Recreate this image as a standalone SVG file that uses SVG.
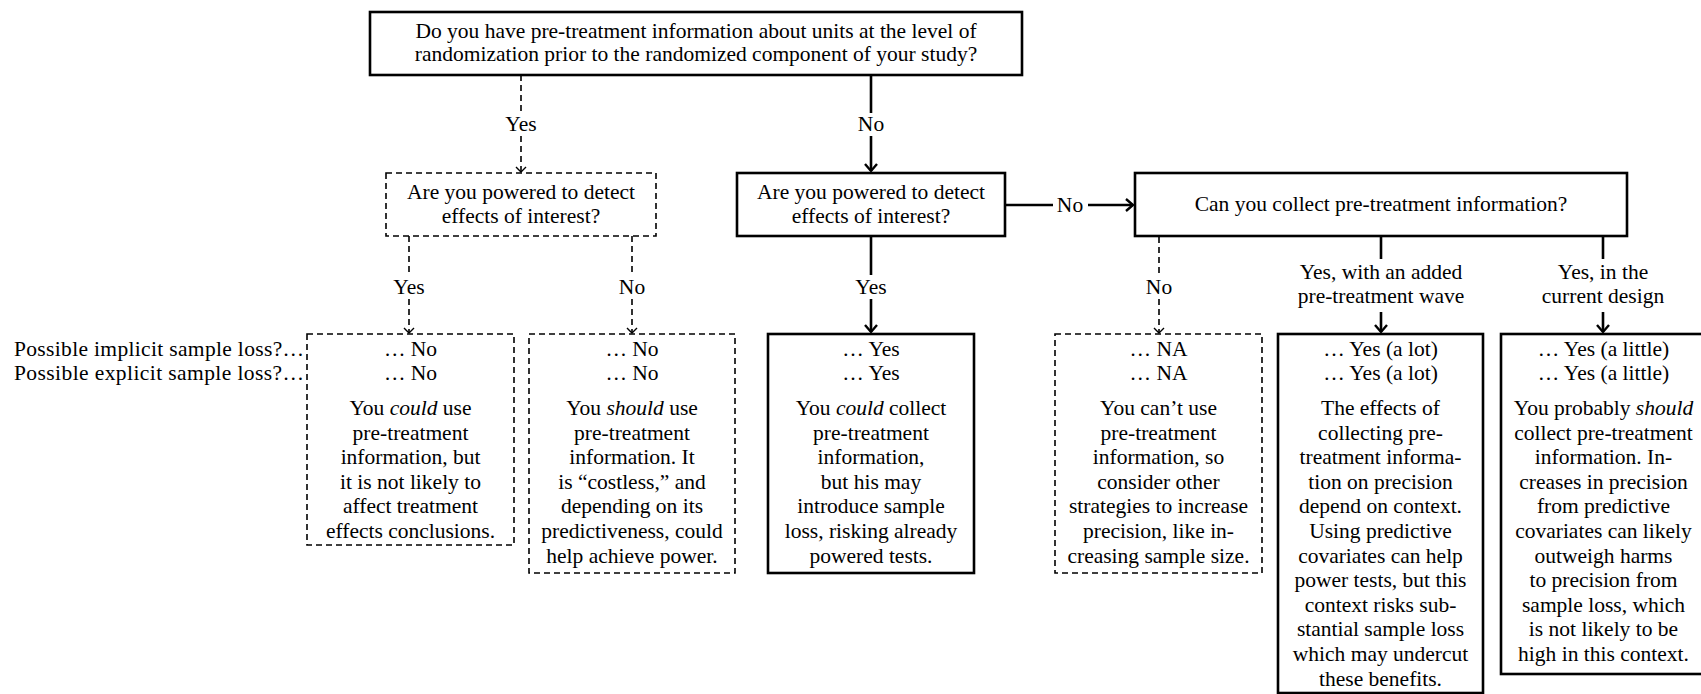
<svg xmlns="http://www.w3.org/2000/svg" width="1701" height="694" viewBox="0 0 1701 694">
<defs>
<style>
text{font-family:"Liberation Serif","Times New Roman",serif;font-size:21.5px;fill:#000;text-anchor:middle}
.it{font-style:italic}
.lbl{text-anchor:end}
.sbox{fill:#fff;stroke:#000;stroke-width:2.6}
.dbox{fill:#fff;stroke:#000;stroke-width:1.6;stroke-dasharray:6 4}
.s{stroke:#000;stroke-width:2.6;fill:none}
.d{stroke:#000;stroke-width:1.6;fill:none;stroke-dasharray:6 4}
</style>
<marker id="ah" markerUnits="userSpaceOnUse" viewBox="-10 -8 12 16" markerWidth="12" markerHeight="16" refX="0" refY="0" orient="auto">
<path d="M-7,-6 L0,0 L-7,6" fill="none" stroke="#000" stroke-width="2.4"/>
</marker>
<marker id="dh" markerUnits="userSpaceOnUse" viewBox="-10 -8 12 16" markerWidth="12" markerHeight="16" refX="0" refY="0" orient="auto">
<path d="M-5,-5 L0,0 L-5,5" fill="none" stroke="#000" stroke-width="1.4"/>
</marker>
</defs>
<rect width="1701" height="694" fill="#fff"/>

<g id="connectors">
<line class="d" x1="521" y1="75" x2="521" y2="113"/>
<line class="d" x1="521" y1="136" x2="521" y2="172" marker-end="url(#dh)"/>
<text x="521" y="131">Yes</text>
<line class="s" x1="871" y1="75" x2="871" y2="113"/>
<line class="s" x1="871" y1="136" x2="871" y2="171" marker-end="url(#ah)"/>
<text x="871" y="131">No</text>
<line class="s" x1="1005" y1="205" x2="1053" y2="205"/>
<line class="s" x1="1088" y1="205" x2="1133" y2="205" marker-end="url(#ah)"/>
<text x="1070" y="212">No</text>
<line class="d" x1="409" y1="236" x2="409" y2="275"/>
<line class="d" x1="409" y1="299" x2="409" y2="333" marker-end="url(#dh)"/>
<text x="409" y="294">Yes</text>
<line class="d" x1="632" y1="236" x2="632" y2="275"/>
<line class="d" x1="632" y1="299" x2="632" y2="333" marker-end="url(#dh)"/>
<text x="632" y="294">No</text>
<line class="s" x1="871" y1="236" x2="871" y2="275"/>
<line class="s" x1="871" y1="299" x2="871" y2="332" marker-end="url(#ah)"/>
<text x="871" y="294">Yes</text>
<line class="d" x1="1159" y1="237" x2="1159" y2="275"/>
<line class="d" x1="1159" y1="299" x2="1159" y2="333" marker-end="url(#dh)"/>
<text x="1159" y="294">No</text>
<line class="s" x1="1381" y1="237" x2="1381" y2="259"/>
<line class="s" x1="1381" y1="312" x2="1381" y2="332" marker-end="url(#ah)"/>
<text x="1381" y="279">Yes, with an added</text>
<text x="1381" y="303">pre-treatment wave</text>
<line class="s" x1="1603" y1="237" x2="1603" y2="259"/>
<line class="s" x1="1603" y1="312" x2="1603" y2="332" marker-end="url(#ah)"/>
<text x="1603" y="279">Yes, in the</text>
<text x="1603" y="303">current design</text>
</g>

<g id="q-top">
<rect class="sbox" x="370" y="12" width="652" height="63"/>
<text x="696" y="37.5">Do you have pre-treatment information about units at the level of</text>
<text x="696" y="61">randomization prior to the randomized component of your study?</text>
</g>

<g id="q-powered-yes">
<rect class="dbox" x="386" y="173" width="270" height="63"/>
<text x="521" y="199">Are you powered to detect</text>
<text x="521" y="222.5">effects of interest?</text>
</g>

<g id="q-powered-no">
<rect class="sbox" x="737" y="173" width="268" height="63"/>
<text x="871" y="199">Are you powered to detect</text>
<text x="871" y="222.5">effects of interest?</text>
</g>

<g id="q-collect">
<rect class="sbox" x="1135" y="173" width="492" height="63"/>
<text x="1381" y="211">Can you collect pre-treatment information?</text>
</g>

<g id="row-labels">
<text class="lbl" x="304" y="356" textLength="290">Possible implicit sample loss?…</text>
<text class="lbl" x="304" y="380" textLength="290">Possible explicit sample loss?…</text>
</g>

<g id="out-1">
<rect class="dbox" x="307" y="334" width="207" height="211"/>
<text x="410.5" y="356">… No</text>
<text x="410.5" y="380">… No</text>
<text x="410.5" y="415">You <tspan class="it">could</tspan> use</text>
<text x="410.5" y="439.6">pre-treatment</text>
<text x="410.5" y="464.2">information, but</text>
<text x="410.5" y="488.8">it is not likely to</text>
<text x="410.5" y="513.4">affect treatment</text>
<text x="410.5" y="538">effects conclusions.</text>
</g>

<g id="out-2">
<rect class="dbox" x="529" y="334" width="206" height="239"/>
<text x="632" y="356">… No</text>
<text x="632" y="380">… No</text>
<text x="632" y="415">You <tspan class="it">should</tspan> use</text>
<text x="632" y="439.6">pre-treatment</text>
<text x="632" y="464.2">information. It</text>
<text x="632" y="488.8">is “costless,” and</text>
<text x="632" y="513.4">depending on its</text>
<text x="632" y="538">predictiveness, could</text>
<text x="632" y="562.6">help achieve power.</text>
</g>

<g id="out-3">
<rect class="sbox" x="768" y="334" width="206" height="239"/>
<text x="871" y="356">… Yes</text>
<text x="871" y="380">… Yes</text>
<text x="871" y="415">You <tspan class="it">could</tspan> collect</text>
<text x="871" y="439.6">pre-treatment</text>
<text x="871" y="464.2">information,</text>
<text x="871" y="488.8">but his may</text>
<text x="871" y="513.4">introduce sample</text>
<text x="871" y="538">loss, risking already</text>
<text x="871" y="562.6">powered tests.</text>
</g>

<g id="out-4">
<rect class="dbox" x="1055" y="334" width="207" height="239"/>
<text x="1158.5" y="356">… NA</text>
<text x="1158.5" y="380">… NA</text>
<text x="1158.5" y="415">You can’t use</text>
<text x="1158.5" y="439.6">pre-treatment</text>
<text x="1158.5" y="464.2">information, so</text>
<text x="1158.5" y="488.8">consider other</text>
<text x="1158.5" y="513.4">strategies to increase</text>
<text x="1158.5" y="538">precision, like in-</text>
<text x="1158.5" y="562.6">creasing sample size.</text>
</g>

<g id="out-5">
<rect class="sbox" x="1278" y="334" width="205" height="359"/>
<text x="1380.5" y="356">… Yes (a lot)</text>
<text x="1380.5" y="380">… Yes (a lot)</text>
<text x="1380.5" y="415">The effects of</text>
<text x="1380.5" y="439.6">collecting pre-</text>
<text x="1380.5" y="464.2">treatment informa-</text>
<text x="1380.5" y="488.8">tion on precision</text>
<text x="1380.5" y="513.4">depend on context.</text>
<text x="1380.5" y="538">Using predictive</text>
<text x="1380.5" y="562.6">covariates can help</text>
<text x="1380.5" y="587.2">power tests, but this</text>
<text x="1380.5" y="611.8">context risks sub-</text>
<text x="1380.5" y="636.4">stantial sample loss</text>
<text x="1380.5" y="661">which may undercut</text>
<text x="1380.5" y="685.6">these benefits.</text>
</g>

<g id="out-6">
<rect class="sbox" x="1501" y="334" width="205" height="340"/>
<text x="1603.5" y="356">… Yes (a little)</text>
<text x="1603.5" y="380">… Yes (a little)</text>
<text x="1603.5" y="415">You probably <tspan class="it">should</tspan></text>
<text x="1603.5" y="439.6">collect pre-treatment</text>
<text x="1603.5" y="464.2">information. In-</text>
<text x="1603.5" y="488.8">creases in precision</text>
<text x="1603.5" y="513.4">from predictive</text>
<text x="1603.5" y="538">covariates can likely</text>
<text x="1603.5" y="562.6">outweigh harms</text>
<text x="1603.5" y="587.2">to precision from</text>
<text x="1603.5" y="611.8">sample loss, which</text>
<text x="1603.5" y="636.4">is not likely to be</text>
<text x="1603.5" y="661">high in this context.</text>
</g>
</svg>
